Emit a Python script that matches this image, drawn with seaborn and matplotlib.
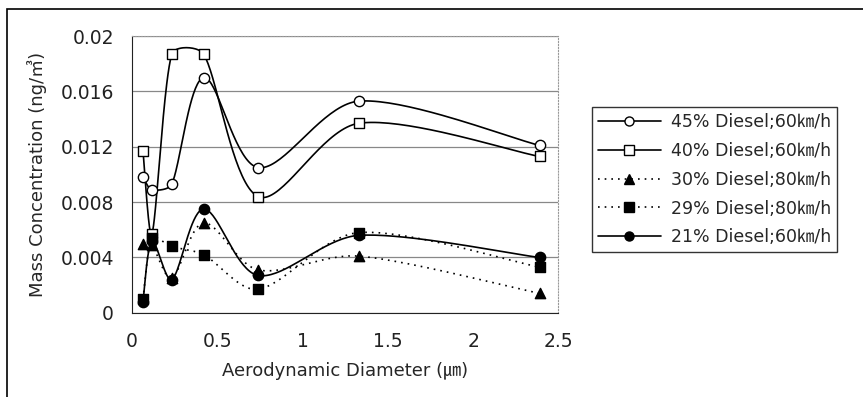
import numpy as np
import matplotlib
matplotlib.use("Agg")
import matplotlib.pyplot as plt
import seaborn as sns
from matplotlib.lines import Line2D
from matplotlib.patches import Rectangle

# aerodynamic diameter (um) of each impactor stage
diameter = [0.064, 0.117, 0.233, 0.42, 0.74, 1.33, 2.39]

diesel45_60 = [0.0098, 0.0089, 0.0093, 0.0170, 0.0105, 0.0153, 0.0121]
diesel40_60 = [0.0117, 0.0057, 0.0187, 0.0187, 0.0084, 0.0137, 0.0113]
diesel30_80 = [0.0050, 0.0049, 0.0025, 0.0065, 0.0031, 0.0041, 0.0014]
diesel29_80 = [0.0010, 0.0054, 0.0048, 0.0042, 0.0017, 0.0058, 0.0033]
diesel21_60 = [0.0008, 0.0052, 0.0024, 0.0075, 0.0027, 0.0056, 0.0040]

labels = ["45% Diesel;60㎞/h", "40% Diesel;60㎞/h", "30% Diesel;80㎞/h",
          "29% Diesel;80㎞/h", "21% Diesel;60㎞/h"]
xticks = [0, 0.5, 1, 1.5, 2, 2.5]
yticks = [0, 0.004, 0.008, 0.012, 0.016, 0.02]

sns.set_style("white")
plt.rcParams["font.family"] = ["DejaVu Sans", "Noto Sans CJK KR"]


def smooth(ax, xs, ys, n=40):
    # excel-like bezier smoothing in screen space, tangents damped
    # when neighbouring segments differ a lot in length
    pts = ax.transData.transform(np.column_stack([xs, ys]))
    p = np.vstack([pts[0], pts, pts[-1]])
    t = np.linspace(0, 1, n)[:, None]
    segs = []
    for i in range(1, len(p) - 2):
        p0, p1, p2, p3 = p[i - 1], p[i], p[i + 1], p[i + 2]
        d01 = np.hypot(*(p1 - p0))
        d12 = np.hypot(*(p2 - p1))
        d23 = np.hypot(*(p3 - p2))
        f1 = min(1, 2 * d12 / (d01 + d12)) if d01 > 0 else 1
        f2 = min(1, 2 * d12 / (d12 + d23)) if d23 > 0 else 1
        c1 = p1 + (p2 - p0) / 6 * f1
        c2 = p2 - (p3 - p1) / 6 * f2
        segs.append((1 - t) ** 3 * p1 + 3 * (1 - t) ** 2 * t * c1
                    + 3 * (1 - t) * t ** 2 * c2 + t ** 3 * p2)
    return ax.transData.inverted().transform(np.vstack(segs))


fig = plt.figure(figsize=(8.63, 3.97), dpi=100)
ax = fig.add_axes([0.153, 0.212, 0.494, 0.697])
ax.set_xlim(0, 2.5)
ax.set_ylim(0, 0.02)

series = [diesel45_60, diesel40_60, diesel30_80, diesel29_80, diesel21_60]
markers = ["o", "s", "^", "s", "o"]
faces = ["white", "white", "black", "black", "black"]
styles = ["-", "-", (0, (1, 3)), (0, (1, 3)), "-"]

handles = []
for ys, m, fc, ls, lab in zip(series, markers, faces, styles, labels):
    curve = smooth(ax, diameter, ys)
    ax.plot(curve[:, 0], curve[:, 1], color="black", lw=1.2, ls=ls, zorder=2)
    sns.scatterplot(x=diameter, y=ys, marker=m, s=55, color=fc,
                    edgecolor="black", linewidth=1, ax=ax, zorder=3)
    handles.append(Line2D([], [], color="black", lw=1.2, ls=ls, marker=m,
                          markerfacecolor=fc, markeredgecolor="black",
                          markersize=6.5, label=lab))

ax.set_xticks(xticks)
ax.set_xticklabels(["0", "0.5", "1", "1.5", "2", "2.5"])
ax.set_yticks(yticks)
ax.set_yticklabels(["0", "0.004", "0.008", "0.012", "0.016", "0.02"])
ax.tick_params(axis="both", labelsize=13.5, colors="#222222")
ax.tick_params(axis="x", direction="in", length=4, pad=14)
ax.tick_params(axis="y", length=0, pad=13)
ax.grid(axis="y", color="#888888", lw=0.9)
for side in ["top", "right"]:
    ax.spines[side].set_color("#999999")
    ax.spines[side].set_linestyle(":")
for side in ["left", "bottom"]:
    ax.spines[side].set_color("#222222")

ax.set_xlabel("Aerodynamic Diameter (㎛)", fontsize=13, labelpad=8)
ax.set_ylabel("Mass Concentration (ng/㎥)", fontsize=13, labelpad=10)

fig.legend(handles=handles, loc="upper left", bbox_to_anchor=(0.686, 0.73),
           fontsize=12.5, frameon=True, fancybox=False, edgecolor="black",
           handlelength=3.6, handletextpad=0.6, labelspacing=0.62,
           borderpad=0.35, borderaxespad=0)

fig.patches.append(Rectangle((0.008, -0.05), 1.1, 1.028, transform=fig.transFigure,
                             fill=False, edgecolor="black", lw=1.2))

fig.savefig("out.png", dpi=100)
